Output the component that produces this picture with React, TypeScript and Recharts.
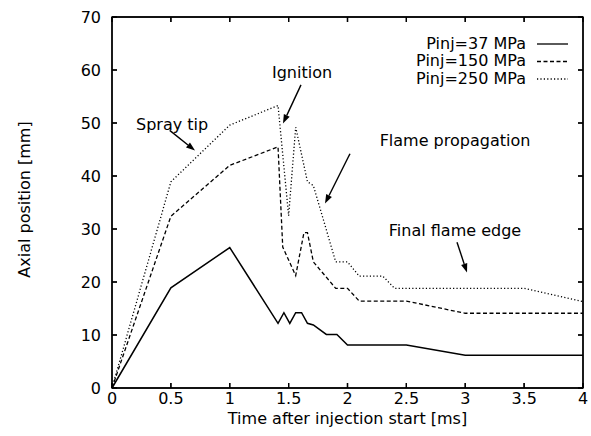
import React from 'react';
import { LineChart, Line, XAxis, YAxis, CartesianGrid, ReferenceLine, ReferenceDot } from 'recharts';

// time [ms] / axial position [mm]
const t37 = [0, 0.5, 1, 1.41, 1.46, 1.51, 1.56, 1.61, 1.66, 1.71, 1.82, 1.91, 2, 2.5, 3, 4];
const pos37 = [0, 18.9, 26.5, 12.2, 14.2, 12.2, 14.2, 14.2, 12.2, 11.9, 10.1, 10.1, 8.1, 8.1, 6.2, 6.2];

const t150 = [0, 0.5, 1, 1.41, 1.45, 1.56, 1.63, 1.66, 1.71, 1.9, 2, 2.1, 2.5, 3, 4];
const pos150 = [0, 32.4, 42, 45.5, 26.6, 21.2, 29.3, 29.3, 23.8, 18.8, 18.8, 16.4, 16.4, 14.1, 14.1];

const t250 = [0, 0.5, 1, 1.41, 1.5, 1.56, 1.66, 1.71, 1.9, 2, 2.1, 2.3, 2.4, 3.5, 4];
const pos250 = [0, 38.9, 49.6, 53.3, 32.5, 49.2, 38.9, 38.2, 23.8, 23.8, 21.1, 21.1, 18.8, 18.8, 16.3];

const xTicks = [0, 0.5, 1, 1.5, 2, 2.5, 3, 3.5, 4];
const yTicks = [0, 10, 20, 30, 40, 50, 60, 70];

const seriesNames = ['Pinj=37 MPa', 'Pinj=150 MPa', 'Pinj=250 MPa'];
const seriesDash = ['0', '4 2.5', '1.2 2.2'];

// annotation text position and arrow (from -> to), in data units
const notes = [
  { text: 'Spray tip', tx: 0.51, ty: 49.7, a: [0.49, 48.6, 0.705, 44.8] },
  { text: 'Ignition', tx: 1.614, ty: 59.5, a: [1.605, 57.2, 1.452, 49.9] },
  { text: 'Flame propagation', tx: 2.913, ty: 46.7, a: [2.021, 44.2, 1.809, 34.8] },
  { text: 'Final flame edge', tx: 2.913, ty: 29.7, a: [2.93, 27.5, 3.015, 21.8] },
];

const toRows = (ts: number[], vs: number[]) => ts.map((t, i) => ({ t, v: vs[i] }));
const rows = [toRows(t37, pos37), toRows(t150, pos150), toRows(t250, pos250)];

const FONT = '"DejaVu Sans", sans-serif';
const W = 591;
const H = 436;
const M = { top: 17, right: 8, left: 0, bottom: 0 };
const X_H = 48;
const Y_W = 112;
const PLOT_X = M.left + Y_W;
const PLOT_Y = M.top;
const PLOT_W = W - M.left - M.right - Y_W;
const PLOT_H = H - M.top - M.bottom - X_H;
const TICK = 5;

const Arrow = (props: any) => {
  const { x1, y1, x2, y2 } = props;
  const ang = Math.atan2(y2 - y1, x2 - x1);
  const len = 9;
  const w = 3.2;
  const bx = x2 - len * Math.cos(ang);
  const by = y2 - len * Math.sin(ang);
  const px = -Math.sin(ang) * w;
  const py = Math.cos(ang) * w;
  return (
    <g>
      <line x1={x1} y1={y1} x2={bx} y2={by} stroke="#000" strokeWidth={1.4} />
      <polygon points={`${x2},${y2} ${bx + px},${by + py} ${bx - px},${by - py}`} fill="#000" />
    </g>
  );
};

// bottom tick label + inward tick marks on the bottom and top edges
const XTick = (p: any) => {
  const { x, y, payload } = p;
  return (
    <g>
      <line x1={x} x2={x} y1={y} y2={y - TICK} stroke="#000" strokeWidth={1.3} />
      <line x1={x} x2={x} y1={y - PLOT_H} y2={y - PLOT_H + TICK} stroke="#000" strokeWidth={1.3} />
      <text x={x} y={y + 5} dy="0.71em" textAnchor="middle" fontFamily={FONT} fontSize={16} fill="#000">
        {payload.value}
      </text>
    </g>
  );
};

// left tick label + inward tick marks on the left and right edges
const YTick = (p: any) => {
  const { x, y, payload } = p;
  return (
    <g>
      <line x1={x} x2={x + TICK} y1={y} y2={y} stroke="#000" strokeWidth={1.3} />
      <line x1={x + PLOT_W - TICK} x2={x + PLOT_W} y1={y} y2={y} stroke="#000" strokeWidth={1.3} />
      <text x={x - 11} y={y} dy="0.355em" textAnchor="end" fontFamily={FONT} fontSize={16} fill="#000">
        {payload.value}
      </text>
    </g>
  );
};

// legend plus the plot frame drawn on top of the chart
const Overlay = () => (
  <svg width={W} height={H} style={{ position: 'absolute', left: 0, top: 0, pointerEvents: 'none' }}>
    <rect x={PLOT_X} y={PLOT_Y} width={PLOT_W} height={PLOT_H} fill="none" stroke="#000" strokeWidth={1.4} />
    {xTicks.map((t) => {
      const px = PLOT_X + (t / 4) * PLOT_W;
      return (
        <g key={'ox' + t}>
          <line x1={px} x2={px} y1={PLOT_Y} y2={PLOT_Y + TICK} stroke="#000" strokeWidth={1.3} />
          <line x1={px} x2={px} y1={PLOT_Y + PLOT_H - TICK} y2={PLOT_Y + PLOT_H} stroke="#000" strokeWidth={1.3} />
        </g>
      );
    })}
    {yTicks.map((v) => {
      const py = PLOT_Y + PLOT_H - (v / 70) * PLOT_H;
      return (
        <g key={'oy' + v}>
          <line x1={PLOT_X} x2={PLOT_X + TICK} y1={py} y2={py} stroke="#000" strokeWidth={1.3} />
          <line x1={PLOT_X + PLOT_W - TICK} x2={PLOT_X + PLOT_W} y1={py} y2={py} stroke="#000" strokeWidth={1.3} />
        </g>
      );
    })}
    {seriesNames.map((name, i) => (
      <g key={name}>
        <text x={526} y={43 + i * 17.5} textAnchor="end" dominantBaseline="central" fontFamily={FONT} fontSize={16} fill="#000">
          {name}
        </text>
        <line x1={537} x2={568} y1={44 + i * 17.5} y2={44 + i * 17.5} stroke="#000" strokeWidth={1.3} strokeDasharray={seriesDash[i]} />
      </g>
    ))}
  </svg>
);

export default function App() {
  return (
    <div style={{ position: 'absolute', left: 0, top: 0, width: W, height: H, background: '#fff' }}>
      <LineChart width={W} height={H} margin={M}>
        <CartesianGrid
          stroke="#000"
          strokeWidth={1.3}
          horizontalCoordinatesGenerator={({ offset }: any) => [offset.top]}
          verticalCoordinatesGenerator={({ offset }: any) => [offset.left + offset.width]}
        />
        <XAxis
          dataKey="t"
          type="number"
          domain={[0, 4]}
          ticks={xTicks}
          height={X_H}
          tickSize={0}
          tickMargin={0}
          tickLine={false}
          stroke="#000"
          strokeWidth={1.3}
          tick={XTick}
          label={{ value: 'Time after injection start [ms]', position: 'insideBottom', offset: 12, fill: '#000', fontSize: 16, fontFamily: FONT }}
        />
        <YAxis
          type="number"
          domain={[0, 70]}
          ticks={yTicks}
          width={Y_W}
          tickSize={0}
          tickMargin={0}
          tickLine={false}
          stroke="#000"
          strokeWidth={1.3}
          tick={YTick}
          label={{
            content: (p: any) => {
              const vb = p.viewBox;
              const cx = 24;
              const cy = vb.y + vb.height / 2 - 3;
              return (
                <text x={cx} y={cy} transform={`rotate(-90 ${cx} ${cy})`} textAnchor="middle" dominantBaseline="central" fontFamily={FONT} fontSize={16} fill="#000">
                  Axial position [mm]
                </text>
              );
            },
          }}
        />

        {rows.map((data, i) => (
          <Line
            key={seriesNames[i]}
            data={data}
            dataKey="v"
            name={seriesNames[i]}
            type="linear"
            stroke="#000"
            strokeWidth={i === 0 ? 1.5 : 1.3}
            strokeDasharray={seriesDash[i]}
            dot={false}
            isAnimationActive={false}
          />
        ))}

        {notes.map((n) => (
          <ReferenceLine
            key={'a' + n.text}
            segment={[{ x: n.a[0], y: n.a[1] }, { x: n.a[2], y: n.a[3] }]}
            shape={Arrow}
            ifOverflow="visible"
          />
        ))}
        {notes.map((n) => (
          <ReferenceDot
            key={'t' + n.text}
            x={n.tx}
            y={n.ty}
            ifOverflow="visible"
            shape={(p: any) => (
              <text x={p.cx} y={p.cy} textAnchor="middle" dominantBaseline="central" fontFamily={FONT} fontSize={16} fill="#000">
                {n.text}
              </text>
            )}
          />
        ))}
      </LineChart>
      <Overlay />
    </div>
  );
}
